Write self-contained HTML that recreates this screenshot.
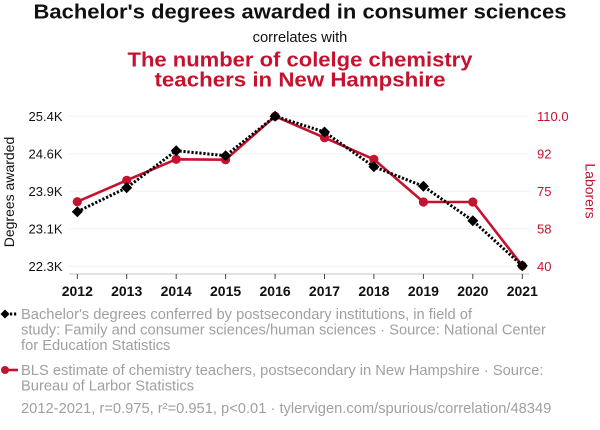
<!DOCTYPE html>
<html><head><meta charset="utf-8"><style>
html,body{margin:0;padding:0;background:#fff;width:600px;height:430px;overflow:hidden}
svg{display:block;font-family:"Liberation Sans",Arial,sans-serif}
</style></head><body>
<svg width="600" height="430" viewBox="0 0 600 430" xmlns="http://www.w3.org/2000/svg">
<text x="300" y="18.5" text-anchor="middle" font-size="20.5" font-weight="bold" fill="#111" textLength="533" lengthAdjust="spacingAndGlyphs">Bachelor's degrees awarded in consumer sciences</text>
<text x="300" y="42" text-anchor="middle" font-size="14.7" fill="#111">correlates with</text>
<text x="300" y="66.7" text-anchor="middle" font-size="20.5" font-weight="bold" fill="#c4122f" textLength="345" lengthAdjust="spacingAndGlyphs">The number of colelge chemistry</text>
<text x="300" y="86.7" text-anchor="middle" font-size="20.5" font-weight="bold" fill="#c4122f" textLength="291" lengthAdjust="spacingAndGlyphs">teachers in New Hampshire</text>

<g stroke="#f0f0f0" stroke-width="1">
<line x1="69" x2="529" y1="116.3" y2="116.3"/>
<line x1="69" x2="529" y1="153.8" y2="153.8"/>
<line x1="69" x2="529" y1="191.3" y2="191.3"/>
<line x1="69" x2="529" y1="228.8" y2="228.8"/>
<line x1="69" x2="529" y1="266.3" y2="266.3"/>
</g>
<line x1="69" x2="529" y1="274" y2="274" stroke="#c8c8c8" stroke-width="1"/>
<g stroke="#444" stroke-width="1">
<line x1="77.3" x2="77.3" y1="274" y2="279"/>
<line x1="126.7" x2="126.7" y1="274" y2="279"/>
<line x1="176.2" x2="176.2" y1="274" y2="279"/>
<line x1="225.6" x2="225.6" y1="274" y2="279"/>
<line x1="275.1" x2="275.1" y1="274" y2="279"/>
<line x1="324.5" x2="324.5" y1="274" y2="279"/>
<line x1="373.9" x2="373.9" y1="274" y2="279"/>
<line x1="423.4" x2="423.4" y1="274" y2="279"/>
<line x1="472.8" x2="472.8" y1="274" y2="279"/>
<line x1="522.3" x2="522.3" y1="274" y2="279"/>
</g>
<g font-size="14" font-weight="bold" fill="#111" text-anchor="middle">
<text x="77.3" y="296">2012</text>
<text x="126.7" y="296">2013</text>
<text x="176.2" y="296">2014</text>
<text x="225.6" y="296">2015</text>
<text x="275.1" y="296">2016</text>
<text x="324.5" y="296">2017</text>
<text x="373.9" y="296">2018</text>
<text x="423.4" y="296">2019</text>
<text x="472.8" y="296">2020</text>
<text x="522.3" y="296">2021</text>
</g>
<g font-size="13" fill="#111" text-anchor="end">
<text x="62.5" y="121">25.4K</text>
<text x="62.5" y="158.5">24.6K</text>
<text x="62.5" y="196">23.9K</text>
<text x="62.5" y="233.5">23.1K</text>
<text x="62.5" y="271">22.3K</text>
</g>
<g font-size="13" fill="#c4122f" text-anchor="start">
<text x="537" y="121">110.0</text>
<text x="537" y="158.5">92</text>
<text x="537" y="196">75</text>
<text x="537" y="233.5">58</text>
<text x="537" y="271">40</text>
</g>
<text transform="translate(14,192) rotate(-90)" text-anchor="middle" font-size="14" fill="#111">Degrees awarded</text>
<text transform="translate(585.5,191) rotate(90)" text-anchor="middle" font-size="14" fill="#c4122f">Laborers</text>

<polyline fill="none" stroke="#c4122f" stroke-width="2.6" stroke-linejoin="round"
points="77.3,201.7 126.7,180.3 176.2,159.3 225.6,159.7 275.1,116.3 324.5,137.7 373.9,159.3 423.4,202 472.8,202 522.3,265.7"/>
<g fill="#c4122f">
<circle cx="77.3" cy="201.7" r="4.6"/>
<circle cx="126.7" cy="180.3" r="4.6"/>
<circle cx="176.2" cy="159.3" r="4.6"/>
<circle cx="225.6" cy="159.7" r="4.6"/>
<circle cx="275.1" cy="116.3" r="4.6"/>
<circle cx="324.5" cy="137.7" r="4.6"/>
<circle cx="373.9" cy="159.3" r="4.6"/>
<circle cx="423.4" cy="202" r="4.6"/>
<circle cx="472.8" cy="202" r="4.6"/>
<circle cx="522.3" cy="265.7" r="4.6"/>
</g>
<polyline fill="none" stroke="#000" stroke-width="3" stroke-dasharray="2.2 1.8"
points="77.3,211.7 126.7,187.7 176.2,150.7 225.6,155.7 275.1,116.3 324.5,132 373.9,166.7 423.4,186.3 472.8,220.7 522.3,265.7"/>
<g fill="#000">
<path d="M77.3,206.2 l5.5,5.5 l-5.5,5.5 l-5.5,-5.5z"/>
<path d="M126.7,182.2 l5.5,5.5 l-5.5,5.5 l-5.5,-5.5z"/>
<path d="M176.2,145.2 l5.5,5.5 l-5.5,5.5 l-5.5,-5.5z"/>
<path d="M225.6,150.2 l5.5,5.5 l-5.5,5.5 l-5.5,-5.5z"/>
<path d="M275.1,110.8 l5.5,5.5 l-5.5,5.5 l-5.5,-5.5z"/>
<path d="M324.5,126.5 l5.5,5.5 l-5.5,5.5 l-5.5,-5.5z"/>
<path d="M373.9,161.2 l5.5,5.5 l-5.5,5.5 l-5.5,-5.5z"/>
<path d="M423.4,180.8 l5.5,5.5 l-5.5,5.5 l-5.5,-5.5z"/>
<path d="M472.8,215.2 l5.5,5.5 l-5.5,5.5 l-5.5,-5.5z"/>
<path d="M522.3,260.2 l5.5,5.5 l-5.5,5.5 l-5.5,-5.5z"/>
</g>

<line x1="2" x2="18" y1="314" y2="314" stroke="#000" stroke-width="3" stroke-dasharray="2.2 1.8"/>
<path d="M5,309.5 l4.5,4.5 l-4.5,4.5 l-4.5,-4.5z" fill="#000"/>
<line x1="2" x2="18" y1="370" y2="370" stroke="#c4122f" stroke-width="2.6"/>
<circle cx="5" cy="370" r="4" fill="#c4122f"/>

<g font-size="14.7" fill="#a0a0a0">
<text x="21" y="319">Bachelor's degrees conferred by postsecondary institutions, in field of</text>
<text x="21" y="334.6">study: Family and consumer sciences/human sciences · Source: National Center</text>
<text x="21" y="350.2">for Education Statistics</text>
<text x="21" y="375">BLS estimate of chemistry teachers, postsecondary in New Hampshire · Source:</text>
<text x="21" y="390.6">Bureau of Larbor Statistics</text>
<text x="21" y="413">2012-2021, r=0.975, r²=0.951, p&lt;0.01 · tylervigen.com/spurious/correlation/48349</text>
</g>
</svg>
</body></html>
